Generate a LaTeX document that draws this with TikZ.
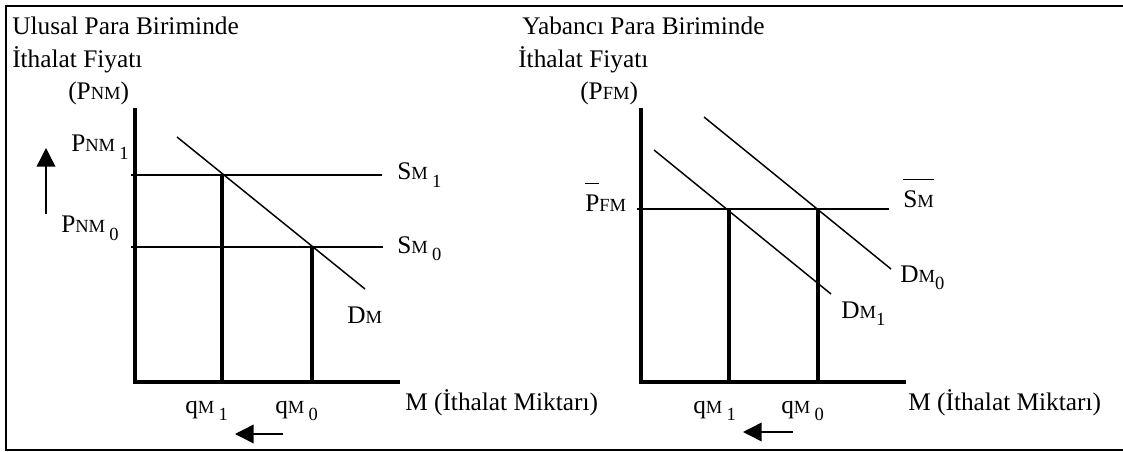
\documentclass[tikz,border=0pt]{standalone}
\usepackage{fontspec}
\usepackage{amsmath}
\setmainfont{Liberation Serif}
\usetikzlibrary{arrows.meta,positioning}

% smaller letters on the baseline and lowered indices
\newcommand{\minor}[1]{{\fontsize{13.9}{14}\selectfont #1}}
\newcommand{\lowidx}[1]{\raisebox{-0.3em}{\fontsize{13.9}{14}\selectfont #1}}
\newcommand{\topbar}[1]{$\overline{\vphantom{\rule{0pt}{0.98em}}\text{#1}}$}

\begin{document}
\begin{tikzpicture}[
        x=0.75pt, y=-0.75pt,
        % Styles
        frame/.style={
            line width=2.1pt,
            line join=miter
        },
        axis/.style={
            line width=2.5pt,
            line join=miter
        },
        drop/.style={
            line width=2.4pt
        },
        curve/.style={
            line width=1.1pt
        },
        moveArrow/.style={
            -{Triangle[length=14pt,width=14pt]},
            line width=1.1pt
        },
        lbl/.style={
            anchor=base west,
            inner sep=0pt,
            font=\fontsize{19}{21}\selectfont
        }
    ]

    \useasboundingbox (0,0) rectangle (1123,452);

    % Frame
    \draw[frame] (1123,6) -- (6,6) -- (6,450) -- (1123,450);

    % ---------------- Left panel (national currency) ----------------
    \coordinate (oL) at (135,382);
    \coordinate (yL) at (135,108);
    \coordinate (xL) at (400,382);
    \coordinate (s1a) at (131,175);
    \coordinate (s1b) at (382,175);
    \coordinate (s0a) at (131,247);
    \coordinate (s0b) at (383,247);
    \coordinate (dLa) at (177,137);
    \coordinate (dLb) at (365,289);
    \coordinate (e1) at (222,175);
    \coordinate (e0) at (312,247);

    % Axes
    \draw[axis] (yL) -- (oL) -- (xL);

    % Supply lines and demand line
    \draw[curve] (s1a) -- (s1b);
    \draw[curve] (s0a) -- (s0b);
    \draw[curve] (dLa) -- (dLb);

    % Drop lines to the quantities
    \draw[drop] (e1) -- (e1 |- oL);
    \draw[drop] (e0) -- (e0 |- oL);

    % Titles
    \node[lbl] (titleL) at (12,35) {Ulusal Para Biriminde};
    \node[lbl] (titleL2) at (12,68) {İthalat Fiyatı};
    \node[lbl] (pnm) at (68,100) {(P\minor{NM})};

    % Price labels
    \node[lbl] (pnm1) at (71,152) {P\minor{NM}\,\lowidx{1}};
    \node[lbl] (pnm0) at (61,233) {P\minor{NM}\,\lowidx{0}};

    % Price rise arrow
    \coordinate (upA) at (46,214);
    \coordinate (upB) at (46,148);
    \draw[moveArrow] (upA) -- (upB);

    % Line labels
    \node[lbl] (sm1) at (397,180) {S\minor{M}\,\lowidx{1}};
    \node[lbl] (sm0) at (397,253) {S\minor{M}\,\lowidx{0}};
    \node[lbl] (dmL) at (347,323) {D\minor{M}};

    % Quantity labels
    \node[lbl] (qL1) at (185,413) {q\minor{M}\,\lowidx{1}};
    \node[lbl] (qL0) at (275,413) {q\minor{M}\,\lowidx{0}};
    \node[lbl] (mL) at (405,410) {M (İthalat Miktarı)};

    % Quantity fall arrow
    \coordinate (lfA) at (283,434);
    \coordinate (lfB) at (235,434);
    \draw[moveArrow] (lfA) -- (lfB);

    % ---------------- Right panel (foreign currency) ----------------
    \coordinate (oR) at (641,382);
    \coordinate (yR) at (641,108);
    \coordinate (xR) at (906,382);
    \coordinate (sa) at (637,209);
    \coordinate (sb) at (889,209);
    \coordinate (d0a) at (704,117);
    \coordinate (d0b) at (891,269);
    \coordinate (d1a) at (654,150);
    \coordinate (d1b) at (831,294);
    \coordinate (f1) at (729,209);
    \coordinate (f0) at (818,209);

    % Axes
    \draw[axis] (yR) -- (oR) -- (xR);

    % Supply line and demand lines
    \draw[curve] (sa) -- (sb);
    \draw[curve] (d0a) -- (d0b);
    \draw[curve] (d1a) -- (d1b);

    % Drop lines to the quantities
    \draw[drop] (f1) -- (f1 |- oR);
    \draw[drop] (f0) -- (f0 |- oR);

    % Titles
    \node[lbl] (titleR) at (522,35) {Yabancı Para Biriminde};
    \node[lbl] (titleR2) at (518,68) {İthalat Fiyatı};
    \node[lbl] (pfm) at (580,100) {(P\minor{FM})};

    % Price and line labels
    \node[lbl] (pfmbar) at (585,212) {\topbar{P}\minor{FM}};
    \node[lbl] (smbar) at (903,208) {\topbar{S\minor{M}}};
    \node[lbl] (dm0) at (900,282) {D\minor{M}\lowidx{0}};
    \node[lbl] (dm1) at (841,318) {D\minor{M}\lowidx{1}};

    % Quantity labels
    \node[lbl] (qR1) at (693,413) {q\minor{M}\,\lowidx{1}};
    \node[lbl] (qR0) at (781,413) {q\minor{M}\,\lowidx{0}};
    \node[lbl] (mR) at (908,410) {M (İthalat Miktarı)};

    % Quantity fall arrow
    \coordinate (rfA) at (793,432);
    \coordinate (rfB) at (743,432);
    \draw[moveArrow] (rfA) -- (rfB);

\end{tikzpicture}
\end{document}
